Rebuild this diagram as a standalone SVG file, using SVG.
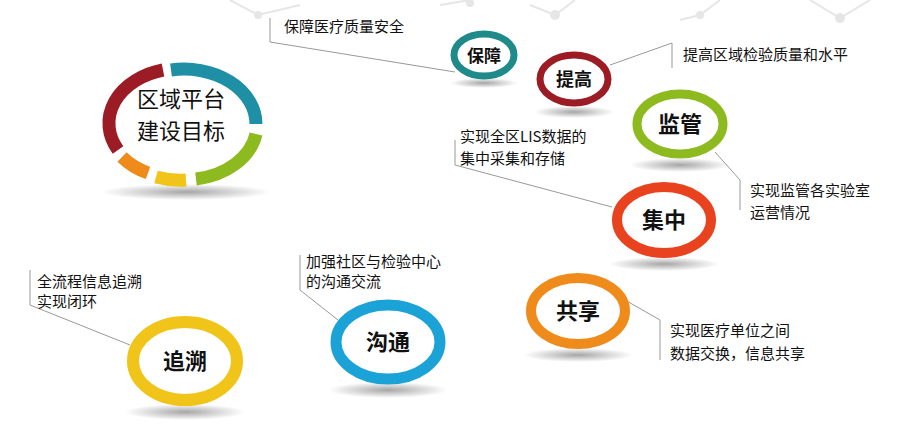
<svg xmlns="http://www.w3.org/2000/svg" width="900" height="437" viewBox="0 0 900 437">
<defs>
<radialGradient id="sh"><stop offset="0" stop-color="#000" stop-opacity="0.35"/><stop offset="1" stop-color="#000" stop-opacity="0"/></radialGradient>
<style>
.ring{fill:#fff}
.t{font-family:"Noto Sans CJK SC","Liberation Sans",sans-serif;fill:#111;text-anchor:middle;font-weight:bold}
.l{font-family:"Noto Sans CJK SC","Liberation Sans",sans-serif;fill:#111;font-size:15px}
.ln{fill:none;stroke:#999;stroke-width:1}
.bg{fill:none;stroke:#e6e6e6;stroke-width:2}
.bgc{fill:#e6e6e6}
</style>
</defs>
<rect width="900" height="437" fill="#fff"/>
<g id="bgdeco">
<polyline class="bg" points="230,0 258,15 300,5"/><polyline class="bg" points="440,5 470,0"/>
<polyline class="bg" points="530,5 555,15 575,0"/><polyline class="bg" points="680,20 700,15 720,0"/>
<polyline class="bg" points="810,0 840,18 870,0"/>
<circle class="bgc" cx="258" cy="15" r="4"/><circle class="bgc" cx="555" cy="15" r="5"/><circle class="bgc" cx="700" cy="15" r="4"/><circle class="bgc" cx="840" cy="18" r="5"/><circle class="bgc" cx="470" cy="3" r="4"/>
</g>
<g id="connectors">
<polyline class="ln" points="270,18 270,42 455,72"/>
<polyline class="ln" points="672,43 672,68"/><line class="ln" x1="672" y1="43" x2="610" y2="65"/>
<polyline class="ln" points="455,140 455,165 612,207"/>
<polyline class="ln" points="740,210 740,180 715,152"/>
<polyline class="ln" points="30,270 30,305 130,345"/>
<polyline class="ln" points="300,255 300,290 338,320"/>
<polyline class="ln" points="660,360 660,320 625,300"/>
</g>
<g id="goal">
<ellipse cx="186" cy="192" rx="85" ry="8" fill="url(#sh)"/>
<g fill="none" stroke-width="13">
<path d="M171,70 A72,55 0 0 1 256,124" stroke="#1e8fa5"/>
<path d="M256,134 A72,55 0 0 1 196,179" stroke="#8dbb1f"/>
<path d="M186,180 A72,55 0 0 1 156,177" stroke="#f0c419"/>
<path d="M148,173 A72,55 0 0 1 122,157" stroke="#ee8b1a"/>
<path d="M118,150 A72,55 0 0 1 163,70" stroke="#9b1c24"/>
</g>
<text class="t" x="181" y="107" font-size="22" style="font-weight:normal">区域平台</text>
<text class="t" x="181" y="139" font-size="22" style="font-weight:normal">建设目标</text>
</g>
<g id="baozhang"><ellipse cx="484" cy="83" rx="34" ry="5" fill="url(#sh)"/><ellipse class="ring" cx="484" cy="55" rx="30" ry="21" stroke="#1e8a8a" stroke-width="7"/><text class="t" x="484" y="62" font-size="17">保障</text></g>
<g id="tigao"><ellipse cx="574" cy="112" rx="40" ry="6" fill="url(#sh)"/><ellipse class="ring" cx="574" cy="79" rx="34" ry="24" stroke="#9b1c24" stroke-width="7"/><text class="t" x="574" y="86" font-size="18">提高</text></g>
<g id="jianguan"><ellipse cx="680" cy="165" rx="50" ry="7" fill="url(#sh)"/><ellipse class="ring" cx="680" cy="124" rx="43" ry="30" stroke="#8dbb1f" stroke-width="9"/><text class="t" x="680" y="132" font-size="22">监管</text></g>
<g id="jizhong"><ellipse cx="664" cy="264" rx="55" ry="7" fill="url(#sh)"/><ellipse class="ring" cx="664" cy="220" rx="47" ry="33" stroke="#e8431e" stroke-width="10"/><text class="t" x="664" y="228" font-size="22">集中</text></g>
<g id="gongxiang"><ellipse cx="578" cy="355" rx="55" ry="7" fill="url(#sh)"/><ellipse class="ring" cx="578" cy="311" rx="47" ry="33" stroke="#ee8b1a" stroke-width="10"/><text class="t" x="578" y="319" font-size="22">共享</text></g>
<g id="goutong"><ellipse cx="388" cy="390" rx="60" ry="8" fill="url(#sh)"/><ellipse class="ring" cx="388" cy="342" rx="52" ry="37" stroke="#1ba3d8" stroke-width="11"/><text class="t" x="388" y="350" font-size="22">沟通</text></g>
<g id="zhuisu"><ellipse cx="185" cy="412" rx="60" ry="8" fill="url(#sh)"/><ellipse class="ring" cx="185" cy="361" rx="52" ry="39" stroke="#f0c419" stroke-width="12"/><text class="t" x="185" y="369" font-size="22">追溯</text></g>
<g id="labels">
<text class="l" x="284" y="32">保障医疗质量安全</text>
<text class="l" x="683" y="60">提高区域检验质量和水平</text>
<text class="l" x="460" y="142">实现全区LIS数据的</text>
<text class="l" x="460" y="164">集中采集和存储</text>
<text class="l" x="750" y="196">实现监管各实验室</text>
<text class="l" x="750" y="218">运营情况</text>
<text class="l" x="37" y="287">全流程信息追溯</text>
<text class="l" x="37" y="307">实现闭环</text>
<text class="l" x="306" y="267">加强社区与检验中心</text>
<text class="l" x="306" y="287">的沟通交流</text>
<text class="l" x="670" y="336">实现医疗单位之间</text>
<text class="l" x="670" y="359">数据交换，信息共享</text>
</g>
</svg>
